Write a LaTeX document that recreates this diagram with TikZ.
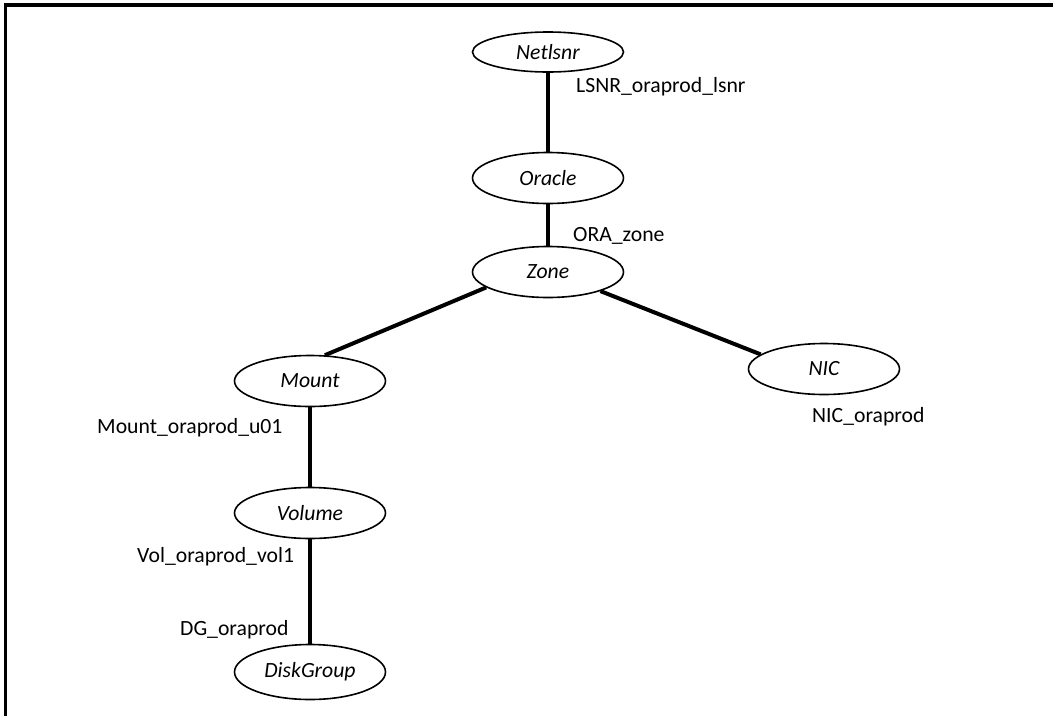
\documentclass[tikz,border=0pt]{standalone}
\usepackage{fontspec}
\setmainfont{Carlito}
\usetikzlibrary{positioning,shapes.geometric}

\begin{document}
\begin{tikzpicture}[x=1pt, y=-1pt, on grid,
font=\fontsize{21.7pt}{26pt}\selectfont,
res/.style ={ellipse, draw, line width=1.6pt, inner sep=0pt, minimum width=151pt, minimum height=51pt, font=\fontsize{21.7pt}{26pt}\selectfont\itshape},
lbl/.style ={anchor=base west, inner sep=0pt},
link/.style ={line width=4pt}]
\useasboundingbox (0,0) rectangle (1053,716);
\draw[line width=3.5pt] (1053,4.8) -- (5.6,4.8) -- (5.6,716);

\node[res, minimum height=40pt] (N) at (548,52) {Netlsnr};
\node[res] (O) [below = 126pt of N] {Oracle};
\node[res] (Z) [below = 94pt of O] {Zone};
\node[res] (M) [below left = 109pt and 238pt of Z] {Mount};
\node[res] (C) [below right = 97pt and 276pt of Z] {NIC};
\node[res] (V) [below = 132pt of M] {Volume};
\node[res, minimum height=55pt] (D) [below = 159pt of V] {DiskGroup};

\node[lbl] (l1) at (576,92) {LSNR\_oraprod\_lsnr};
\node[lbl] (l2) at (573,241) {ORA\_zone};
\node[lbl] (l3) at (97,433) {Mount\_oraprod\_u01};
\node[lbl] (l4) at (812,422) {NIC\_oraprod};
\node[lbl] (l5) at (137,562) {Vol\_oraprod\_vol1};
\node[lbl] (l6) at (180,635) {DG\_oraprod};

\path[link] (N) edge (O)
            (O) edge (Z)
            (Z.194) edge (M.60)
            (Z.340) edge (C.167)
            (M) edge (V)
            (V) edge (D);
\end{tikzpicture}
\end{document}
